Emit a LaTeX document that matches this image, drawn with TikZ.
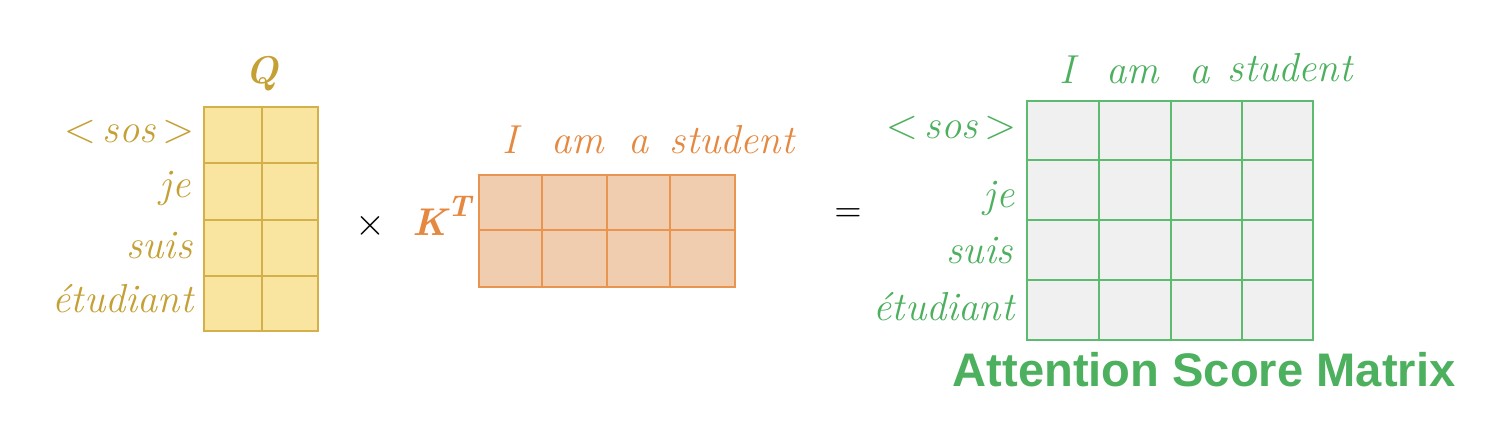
\documentclass[tikz,border=0pt]{standalone}
\usepackage{fontspec}
\newfontfamily\titlefont{Liberation Sans}

\definecolor{qfill}{HTML}{FAE5A0}
\definecolor{qline}{HTML}{D4B04A}
\definecolor{qtext}{HTML}{C4A035}
\definecolor{kfill}{HTML}{F1CDAF}
\definecolor{kline}{HTML}{E9944F}
\definecolor{ktext}{HTML}{E58840}
\definecolor{sfill}{HTML}{F0F0F0}
\definecolor{sline}{HTML}{5DBB70}
\definecolor{stext}{HTML}{4CB05E}

\begin{document}
\begin{tikzpicture}[x=0.01cm,y=-0.01cm]

\useasboundingbox (0,0) rectangle (1500,436);

\tikzstyle{word}=[inner sep=0pt, font=\fontsize{11.5}{13}\selectfont\itshape]
\tikzstyle{matname}=[inner sep=0pt, anchor=base, font=\fontsize{11}{13}\selectfont\bfseries\itshape]
\tikzstyle{qgrid}=[draw=qline, line width=0.6pt]
\tikzstyle{kgrid}=[draw=kline, line width=0.6pt]
\tikzstyle{sgrid}=[draw=sline, line width=0.6pt]

% Q (4 x 2)
\fill[qfill] (204,107) rectangle (318,331);
\draw[qgrid] (204,107) rectangle (318,331);
\draw[qgrid] (262,107) -- (262,331);
\draw[qgrid] (204,163) -- (318,163);
\draw[qgrid] (204,220) -- (318,220);
\draw[qgrid] (204,276) -- (318,276);
\node[matname, text=qtext] (qname) at (262,83) {Q};
\node[word, text=qtext, anchor=base east] (qsos) at (195,142) {$<$\,sos\,$>$};
\node[word, text=qtext, anchor=base east] (qje) at (191,197) {je};
\node[word, text=qtext, anchor=base east] (qsuis) at (193,258) {suis};
\node[word, text=qtext, anchor=base east] (qetud) at (194,312) {étudiant};

\node[font=\fontsize{11}{13}\selectfont] (times) at (370,226) {$\times$};

% K^T (2 x 4)
\fill[kfill] (479,175) rectangle (735,287);
\draw[kgrid] (479,175) rectangle (735,287);
\draw[kgrid] (542,175) -- (542,287);
\draw[kgrid] (607,175) -- (607,287);
\draw[kgrid] (670,175) -- (670,287);
\draw[kgrid] (479,230) -- (735,230);
\node[matname, text=ktext, anchor=base west] (kname) at (412,235) {K\raisebox{5.4pt}{\fontsize{8.5}{9}\selectfont T}};
\node[word, text=ktext, anchor=base] (ki) at (510,153) {I};
\node[word, text=ktext, anchor=base] (kam) at (578,153) {am};
\node[word, text=ktext, anchor=base] (ka) at (639,153) {a};
\node[word, text=ktext, anchor=base] (kstud) at (732,153) {student};

\node[font=\fontsize{10}{12}\selectfont] (equals) at (848,215) {$=$};

% Attention Score Matrix (4 x 4)
\fill[sfill] (1027,101) rectangle (1313,340);
\draw[sgrid] (1027,101) rectangle (1313,340);
\draw[sgrid] (1099,101) -- (1099,340);
\draw[sgrid] (1171,101) -- (1171,340);
\draw[sgrid] (1242,101) -- (1242,340);
\draw[sgrid] (1027,160) -- (1313,160);
\draw[sgrid] (1027,220) -- (1313,220);
\draw[sgrid] (1027,280) -- (1313,280);
\node[word, text=stext, anchor=base] (si) at (1067,83) {I};
\node[word, text=stext, anchor=base] (sam) at (1133,83) {am};
\node[word, text=stext, anchor=base] (sa) at (1200,83) {a};
\node[word, text=stext, anchor=base] (sstud) at (1290,81) {student};
\node[word, text=stext, anchor=base east] (ssos) at (1017,138) {$<$\,sos\,$>$};
\node[word, text=stext, anchor=base east] (sje) at (1015,207) {je};
\node[word, text=stext, anchor=base east] (ssuis) at (1013,263) {suis};
\node[word, text=stext, anchor=base east] (setud) at (1015,320) {étudiant};
\node[inner sep=0pt, anchor=base west, text=stext, font=\fontsize{13.4}{15}\selectfont\titlefont\bfseries] (title) at (952,386) {Attention Score Matrix};

\end{tikzpicture}
\end{document}
